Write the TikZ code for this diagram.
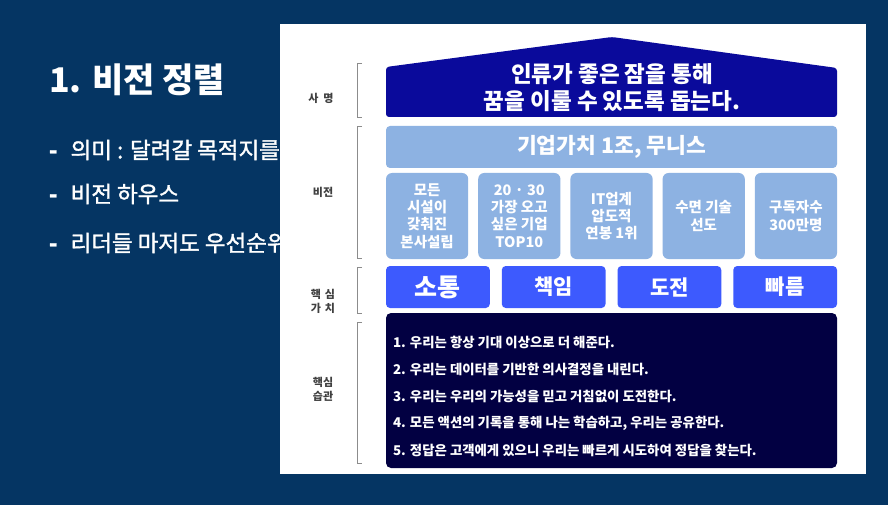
\documentclass[tikz,border=0pt]{standalone}
\usepackage{fontspec}
\setmainfont{Noto Sans CJK KR}
\newfontfamily\bulletfont[FakeBold=1.5]{Noto Sans CJK KR}
\usepackage{xcolor}
\usepackage{tikz}
\usetikzlibrary{positioning}

\definecolor{slidenavy}{RGB}{5,53,99}
\definecolor{missionblue}{RGB}{10,10,155}
\definecolor{visionsky}{RGB}{141,178,226}
\definecolor{valueblue}{RGB}{61,90,254}
\definecolor{habitnavy}{RGB}{2,0,66}

\begin{document}
\begin{tikzpicture}[x=1pt, y=-1pt, node distance=10pt,
  every node/.style={inner sep=0pt, outer sep=0pt},
  sidelabel/.style={font=\bfseries\fontsize{11}{14}\selectfont, text=black!75, align=center},
  bracket/.style={draw=black!45, line width=0.8pt},
  bullet/.style={anchor=west, text=white, font=\bulletfont\fontsize{22.5}{26}\selectfont},
  visionbar/.style={fill=visionsky, rounded corners=4pt, minimum width=451pt, minimum height=42pt, text=white, font=\bfseries\fontsize{21.5}{24}\selectfont},
  visionbox/.style={fill=visionsky, rounded corners=6pt, minimum width=82.2pt, minimum height=86pt, text=white, align=center, font=\bfseries\fontsize{14.5}{17.3}\selectfont},
  valuebox/.style={fill=valueblue, rounded corners=4pt, minimum width=103.75pt, minimum height=42pt, text=white, font=\bfseries\fontsize{21}{24}\selectfont},
  habit/.style={anchor=west, text=white, font=\bfseries\fontsize{13.4}{15}\selectfont}]
\useasboundingbox (0,0) rectangle (888,505);
\fill[slidenavy] (0,0) rectangle (888,505);

% slide text
\node[anchor=west, text=white, font=\bfseries\fontsize{34}{38}\selectfont] (title) at (49,80) {1. 비전 정렬};
\node[bullet] (point1) at (49,150) {\textbf{-}\hspace{13pt}의미 : 달려갈 목적지를};
\node[bullet] (point2) at (49,194) {\textbf{-}\hspace{13pt}비전 하우스};
\node[bullet] (point3) at (49,243) {\textbf{-}\hspace{13pt}리더들 마저도 우선순위};

% vision house panel
\fill[white] (280,24) rectangle (866,474);

\fill[missionblue, rounded corners=3pt] (386,117) -- (386,67) -- (612,37) -- (837,68) -- (837,117) -- cycle;
\node[text=white, align=center, font=\bfseries\fontsize{22.5}{27}\selectfont] (mission) at (612,88) {인류가 좋은 잠을 통해\\꿈을 이룰 수 있도록 돕는다.};

\node[visionbar] (vision) at (611.5,147) {기업가치 1조, 무니스};

\node[visionbox] (goal1) at (427.1,216) {모든\\시설이\\갖춰진\\본사설립};
\node[visionbox, right=of goal1] (goal2) {20 · 30\\가장 오고\\싶은 기업\\TOP10};
\node[visionbox, right=of goal2] (goal3) {IT업계\\압도적\\연봉 1위};
\node[visionbox, right=of goal3] (goal4) {수면 기술\\선도};
\node[visionbox, right=of goal4] (goal5) {구독자수\\300만명};

\node[valuebox, font=\bfseries\fontsize{25}{28}\selectfont] (value1) at (437.9,287) {소통};
\node[valuebox, right=12pt of value1] (value2) {책임};
\node[valuebox, right=12pt of value2] (value3) {도전};
\node[valuebox, right=12pt of value3] (value4) {빠름};

\node[fill=habitnavy, rounded corners=5pt, minimum width=451pt, minimum height=155pt] (habits) at (611.5,390.5) {};
\node[habit] (habit1) at (393,342) {1. 우리는 항상 기대 이상으로 더 해준다.};
\node[habit] (habit2) at (393,369) {2. 우리는 데이터를 기반한 의사결정을 내린다.};
\node[habit] (habit3) at (393,396) {3. 우리는 우리의 가능성을 믿고 거침없이 도전한다.};
\node[habit] (habit4) at (393,423) {4. 모든 액션의 기록을 통해 나는 학습하고, 우리는 공유한다.};
\node[habit] (habit5) at (393,450) {5. 정답은 고객에게 있으니 우리는 빠르게 시도하여 정답을 찾는다.};

% side labels and brackets
\node[sidelabel] (mission label) at (321,98) {사\hspace{5pt}명};
\node[sidelabel] (vision label) at (323,192) {비전};
\node[sidelabel] (value label) at (323,301) {핵\hspace{4pt}심\\가\hspace{4pt}치};
\node[sidelabel] (habit label) at (323,389) {핵심\\습관};
\draw[bracket] (362,63) -- (357,63) -- (357,117) -- (362,117);
\draw[bracket] (362,126) -- (357,126) -- (357,258) -- (362,258);
\draw[bracket] (362,267) -- (357,267) -- (357,313) -- (362,313);
\draw[bracket] (362,322) -- (357,322) -- (357,463) -- (362,463);
\end{tikzpicture}
\end{document}
